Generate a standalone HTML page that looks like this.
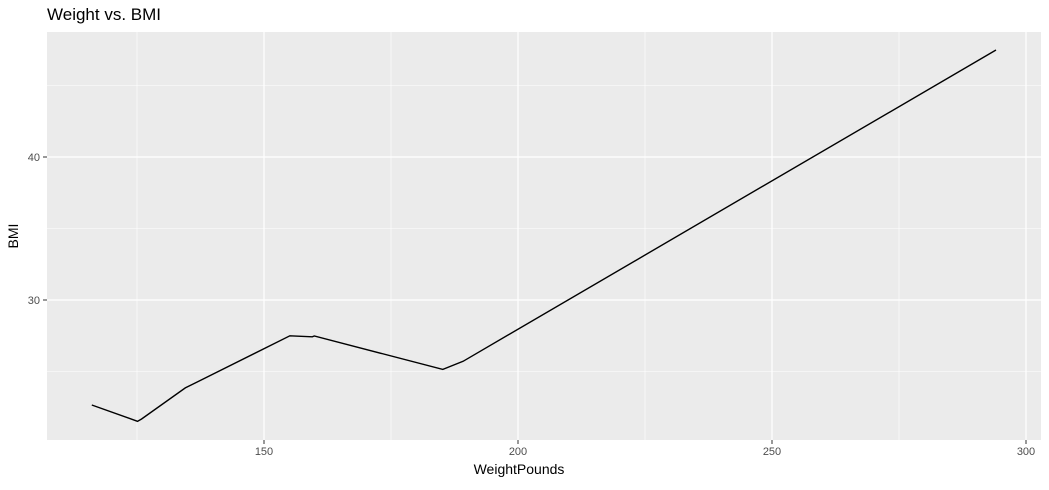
<!DOCTYPE html>
<html><head><meta charset="utf-8"><style>
body{margin:0;background:#fff;font-family:"Liberation Sans",sans-serif}
</style></head><body>
<svg id="chart" width="1049" height="485" xmlns="http://www.w3.org/2000/svg">
<text x="47" y="20" font-size="17" fill="#000">Weight vs. BMI</text>
<rect x="47" y="32" width="994" height="408" fill="#EBEBEB"/>
<g id="grid"></g>
<g id="axes"></g>
<path id="line" fill="none" stroke="#000" stroke-width="1.4"/>
<text x="519" y="474" font-size="14" text-anchor="middle">WeightPounds</text>
<text transform="translate(18,236) rotate(-90)" font-size="14" text-anchor="middle">BMI</text>
</svg>
<script>
const weights=[116.1,125.1,125.9,134.5,136.1,155.1,159.5,159.9,185.2,189.2,294.1];
const bmis=[22.66,21.52,21.68,23.85,24.13,27.50,27.43,27.48,25.15,25.71,47.48];
const xTicks=[150,200,250,300];
const xMinor=[125,175,225,275];
const yTicks=[30,40];
const yMinor=[25,35,45];
const NS="http://www.w3.org/2000/svg";
function xs(v){return 264+(v-150)*5.08;}
function ys(v){return 157-(v-40)*14.3;}
const grid=document.getElementById('grid'),axes=document.getElementById('axes');
function ln(x1,y1,x2,y2,c,w,p){const l=document.createElementNS(NS,'line');l.setAttribute('x1',x1);l.setAttribute('y1',y1);l.setAttribute('x2',x2);l.setAttribute('y2',y2);l.setAttribute('stroke',c);l.setAttribute('stroke-width',w);p.appendChild(l);return l;}
function tx(x,y,s,a,p){const t=document.createElementNS(NS,'text');t.setAttribute('x',x);t.setAttribute('y',y);t.setAttribute('font-size','11');t.setAttribute('fill','#4D4D4D');t.setAttribute('text-anchor',a);t.textContent=s;p.appendChild(t);return t;}
xMinor.forEach(v=>{const l=ln(xs(v),32,xs(v),440,'#fff',0.6,grid);

});
yMinor.forEach(v=>{const l=ln(47,ys(v),1041,ys(v),'#fff',0.6,grid);

});
xTicks.forEach(v=>{const l=ln(xs(v),32,xs(v),440,'#fff',1.2,grid);


const k=ln(xs(v),440,xs(v),444,'#333',1,axes);


const t=tx(xs(v),455,String(v),'middle',axes);

});
yTicks.forEach(v=>{const l=ln(47,ys(v),1041,ys(v),'#fff',1.2,grid);


const k=ln(43,ys(v),47,ys(v),'#333',1,axes);


const t=tx(40,ys(v)+4,String(v),'end',axes);

});
document.getElementById('line').setAttribute('d',weights.map((w,i)=>(i?'L':'M')+xs(w).toFixed(1)+','+ys(bmis[i]).toFixed(1)).join(' '));
</script>
</body></html>
